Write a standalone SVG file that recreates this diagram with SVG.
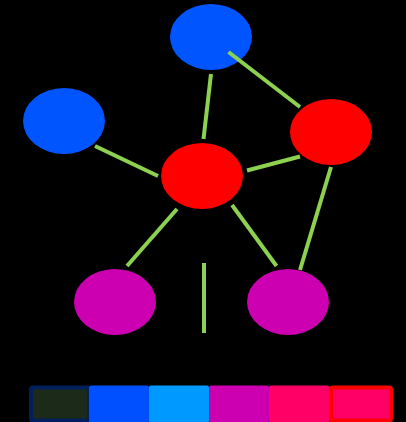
<svg xmlns="http://www.w3.org/2000/svg" width="406" height="422" viewBox="0 0 406 422">
<style>
.n{stroke:none}
.blue{fill:#0055ff}
.red{fill:#ff0000}
.mag{fill:#cc00b0}
.e{stroke:#8cd14f;stroke-width:4;fill:none}
</style>
<rect width="406" height="422" fill="#000"/>
<g id="n1"><ellipse class="n blue" cx="211" cy="37" rx="41" ry="33"/></g>
<g id="n2"><ellipse class="n blue" cx="64" cy="121" rx="41" ry="33"/></g>
<g id="n3"><ellipse class="n red" cx="331" cy="132" rx="41" ry="33"/></g>
<g id="n4"><ellipse class="n red" cx="202" cy="176" rx="41" ry="33"/></g>
<g id="n5"><ellipse class="n mag" cx="115" cy="302" rx="41" ry="33"/></g>
<g id="n6"><ellipse class="n mag" cx="288" cy="302" rx="41" ry="33"/></g>
<g id="connectors">
<line class="e" x1="211" y1="74" x2="203.5" y2="139"/>
<line class="e" x1="228.5" y1="52" x2="300" y2="107"/>
<line class="e" x1="95" y1="146" x2="158" y2="176"/>
<line class="e" x1="247" y1="170.5" x2="300" y2="156.5"/>
<line class="e" x1="331" y1="167" x2="300" y2="270"/>
<line class="e" x1="177" y1="209" x2="127" y2="266"/>
<line class="e" x1="232" y1="205" x2="276.5" y2="266"/>
<line class="e" x1="204" y1="263" x2="204" y2="333"/>
</g>
<g id="legend">
<rect x="31" y="387.5" width="58" height="33" rx="2" fill="#1c2a1a" stroke="#001f5c" stroke-width="4"/>
<rect x="89" y="385.5" width="60" height="37" rx="2" fill="#0050ff"/>
<rect x="149" y="385.5" width="60" height="37" rx="2" fill="#0099ff"/>
<rect x="209" y="385.5" width="60" height="37" rx="2" fill="#cc00b0"/>
<rect x="269" y="385.5" width="60" height="37" rx="2" fill="#ff0066"/>
<rect x="331" y="387.5" width="60" height="33" rx="2" fill="#ff0066" stroke="#ff0000" stroke-width="4"/>
</g>
</svg>
